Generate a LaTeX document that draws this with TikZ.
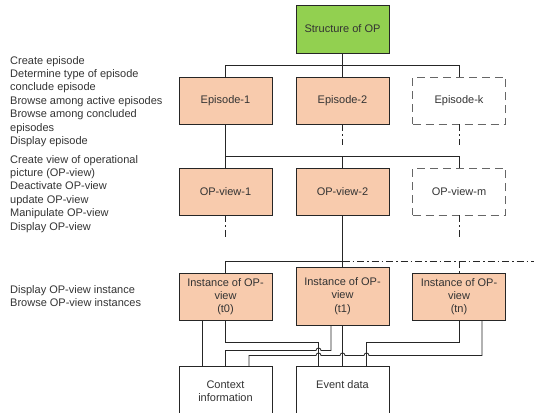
\documentclass[tikz,border=0pt]{standalone}
\usepackage{fontspec}
\setmainfont{Liberation Sans}

\definecolor{opgreen}{HTML}{92D050}
\definecolor{oporange}{HTML}{F8CBAD}
\definecolor{optext}{HTML}{333333}

\begin{document}
\begin{tikzpicture}[x=1pt, y=-1pt,
    box/.style={draw=black!85, line width=0.9pt, minimum width=93pt, minimum height=47pt, align=center, inner sep=2pt, text=optext, font=\fontsize{11pt}{13.2pt}\selectfont},
    opbox/.style={box, fill=oporange},
    rootbox/.style={box, fill=opgreen, minimum height=48pt},
    ghost/.style={box, draw=black!60, dash pattern=on 8pt off 5pt},
    infobox/.style={box, fill=white, anchor=north, minimum height=49pt},
    link/.style={draw=black!85, line width=0.8pt},
    dashlink/.style={link, dash pattern=on 7pt off 3pt on 1.5pt off 3pt},
    note/.style={anchor=north west, align=left, inner sep=0pt, text=optext, font=\fontsize{11pt}{13.4pt}\selectfont}
]
\useasboundingbox (0,0) rectangle (534,412);

% ----------------- nodes -----------------
\node[rootbox] (root) at (342.5,29) {Structure of OP};

\node[opbox] (ep1) at (225.5,100.5) {Episode-1};
\node[opbox] (ep2) at (342.5,100.5) {Episode-2};
\node[ghost] (epk) at (459,100.5)   {Episode-k};

\node[opbox] (op1) at (225.5,191.5) {OP-view-1};
\node[opbox] (op2) at (342.5,191.5) {OP-view-2};
\node[ghost] (opm) at (459,191.5)   {OP-view-m};

\node[opbox] (t0) at (225.5,296.5)                  {Instance of OP-\\view\\(t0)};
\node[opbox, minimum height=58pt] (t1) at (342.5,296) {Instance of OP-\\view\\(t1)};
\node[opbox] (tn) at (459,296.5)                    {Instance of OP-\\view\\(tn)};

\node[infobox] (ctx) at (225.5,366) {Context\\information};
\node[infobox, text height=8pt, text depth=13.6pt] (evt) at (342.5,366) {Event data};

% operations on each level
\node[note] (epops) at (10,56) {Create episode\\Determine type of episode\\conclude episode\\Browse among active episodes\\Browse among concluded\\episodes\\Display episode};
\node[note] (opops) at (10,155) {Create view of operational\\picture (OP-view)\\Deactivate OP-view\\update OP-view\\Manipulate OP-view\\Display OP-view};
\node[note] (instops) at (10,285) {Display OP-view instance\\Browse OP-view instances};

% bus levels
\coordinate (epbus) at (0,65);
\coordinate (opbus) at (0,156);
\coordinate (instbus) at (0,261);
\coordinate (busend) at (534,261);

% ----------------- tree -----------------
\draw[link] (root.south) -- (ep2.north);
\draw[link] (ep1.north) -- (ep1.north |- epbus) -| (epk.north);
\draw[dashlink] (ep2.south) -- ++(0,21);
\draw[dashlink] (epk.south) -- ++(0,21);

\draw[link] (ep1.south) -- (op1.north);
\draw[link] (op1.north |- opbus) -| (opm.north);
\draw[link] (op2.north |- opbus) -- (op2.north);
\draw[dashlink] (op1.south) -- ++(0,23);
\draw[dashlink] (opm.south) -- ++(0,23);

\draw[link] (op2.south) -- (t1.north);
\draw[link] (t0.north) |- (op2.south |- instbus);
\draw[dashlink] (op2.south |- instbus) -- (busend);
\draw[dashlink] (tn.north |- instbus) -- (tn.north);

% ----------------- instances to data -----------------
\draw[link] ([xshift=-23.5pt]t0.south) -- ([xshift=-23.5pt]ctx.north);
\draw[link] (t0.south) -- ++(0,22) -| ([xshift=-24pt]evt.north);
\draw[link] (t1.south) -- (evt.north);
\draw[link] (tn.south) -- ++(0,22) -| ([xshift=24pt]evt.north);
% lines that hop over the verticals
\draw[link] ([xshift=-11.5pt]t1.south) -- ++(0,25) -- ++(-10,0)
    arc[start angle=0, end angle=-180, radius=2.5] -| (ctx.north);
\draw[link] ([xshift=23pt]tn.south) -- ++(0,35) -- ++(-113,0)
    arc[start angle=0, end angle=-180, radius=2.5] -- ++(-19,0)
    arc[start angle=0, end angle=-180, radius=2.5] -- ++(-19,0)
    arc[start angle=0, end angle=-180, radius=2.5] -| ([xshift=23.5pt]ctx.north);

\end{tikzpicture}
\end{document}
